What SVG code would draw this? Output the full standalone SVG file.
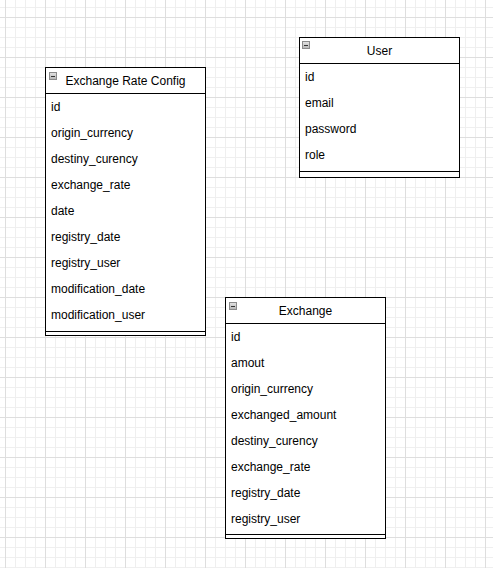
<svg xmlns="http://www.w3.org/2000/svg" width="493" height="568" viewBox="0 0 493 568">
  <defs>
    <pattern id="grid" x="5" y="17" width="40" height="40" patternUnits="userSpaceOnUse">
      <path d="M10.5 0V40M20.5 0V40M30.5 0V40M0 10.5H40M0 20.5H40M0 30.5H40" stroke="#efefef" stroke-width="1" fill="none"/>
      <path d="M0.5 0V40M0 0.5H40" stroke="#dedede" stroke-width="1" fill="none"/>
    </pattern>
    <linearGradient id="icon" x1="0" y1="0" x2="0" y2="1">
      <stop offset="0" stop-color="#e4e4e4"/>
      <stop offset="1" stop-color="#b4b4b4"/>
    </linearGradient>
    <g id="collapse">
      <rect x="0.5" y="0.5" width="7" height="7" fill="url(#icon)" stroke="#8a8a8a" stroke-width="1"/>
      <path d="M2 4.5H6" stroke="#333" stroke-width="1"/>
    </g>
  </defs>
  <style>
    .box { fill: #ffffff; stroke: #000000; stroke-width: 1; }
    .ln { stroke: #000000; stroke-width: 1; fill: none; }
    .title { font-family: "Liberation Sans", Arial, sans-serif; font-size: 12px; fill: #000; text-anchor: middle; }
    .attr { font-family: "Liberation Sans", Arial, sans-serif; font-size: 12px; fill: #000; }
  </style>
  <rect x="0" y="0" width="493" height="568" fill="#ffffff"/>
  <rect x="0" y="0" width="493" height="568" fill="url(#grid)"/>

  <g id="connectors"></g>

  <g id="exchange-rate-config">
    <rect class="box" x="45.5" y="67.5" width="160" height="268"/>
    <path class="ln" d="M45.5 93.5H205.5M45.5 331.5H205.5"/>
    <use href="#collapse" x="49" y="72"/>
    <text class="title" x="125.5" y="84.5">Exchange Rate Config</text>
    <text class="attr" x="51" y="110.5">id</text>
    <text class="attr" x="51" y="136.5">origin_currency</text>
    <text class="attr" x="51" y="162.5">destiny_curency</text>
    <text class="attr" x="51" y="188.5">exchange_rate</text>
    <text class="attr" x="51" y="214.5">date</text>
    <text class="attr" x="51" y="240.5">registry_date</text>
    <text class="attr" x="51" y="266.5">registry_user</text>
    <text class="attr" x="51" y="292.5">modification_date</text>
    <text class="attr" x="51" y="318.5">modification_user</text>
  </g>

  <g id="user">
    <rect class="box" x="299.5" y="37.5" width="160" height="140"/>
    <path class="ln" d="M299.5 63.5H459.5M299.5 171.5H459.5"/>
    <use href="#collapse" x="302" y="41"/>
    <text class="title" x="379.5" y="54.5">User</text>
    <text class="attr" x="305" y="80.5">id</text>
    <text class="attr" x="305" y="106.5">email</text>
    <text class="attr" x="305" y="132.5">password</text>
    <text class="attr" x="305" y="158.5">role</text>
  </g>

  <g id="exchange">
    <rect class="box" x="225.5" y="297.5" width="160" height="241"/>
    <path class="ln" d="M225.5 323.5H385.5M225.5 534.5H385.5"/>
    <use href="#collapse" x="229" y="302"/>
    <text class="title" x="305.5" y="314.5">Exchange</text>
    <text class="attr" x="231" y="340.5">id</text>
    <text class="attr" x="231" y="366.5">amout</text>
    <text class="attr" x="231" y="392.5">origin_currency</text>
    <text class="attr" x="231" y="418.5">exchanged_amount</text>
    <text class="attr" x="231" y="444.5">destiny_curency</text>
    <text class="attr" x="231" y="470.5">exchange_rate</text>
    <text class="attr" x="231" y="496.5">registry_date</text>
    <text class="attr" x="231" y="522.5">registry_user</text>
  </g>
</svg>
